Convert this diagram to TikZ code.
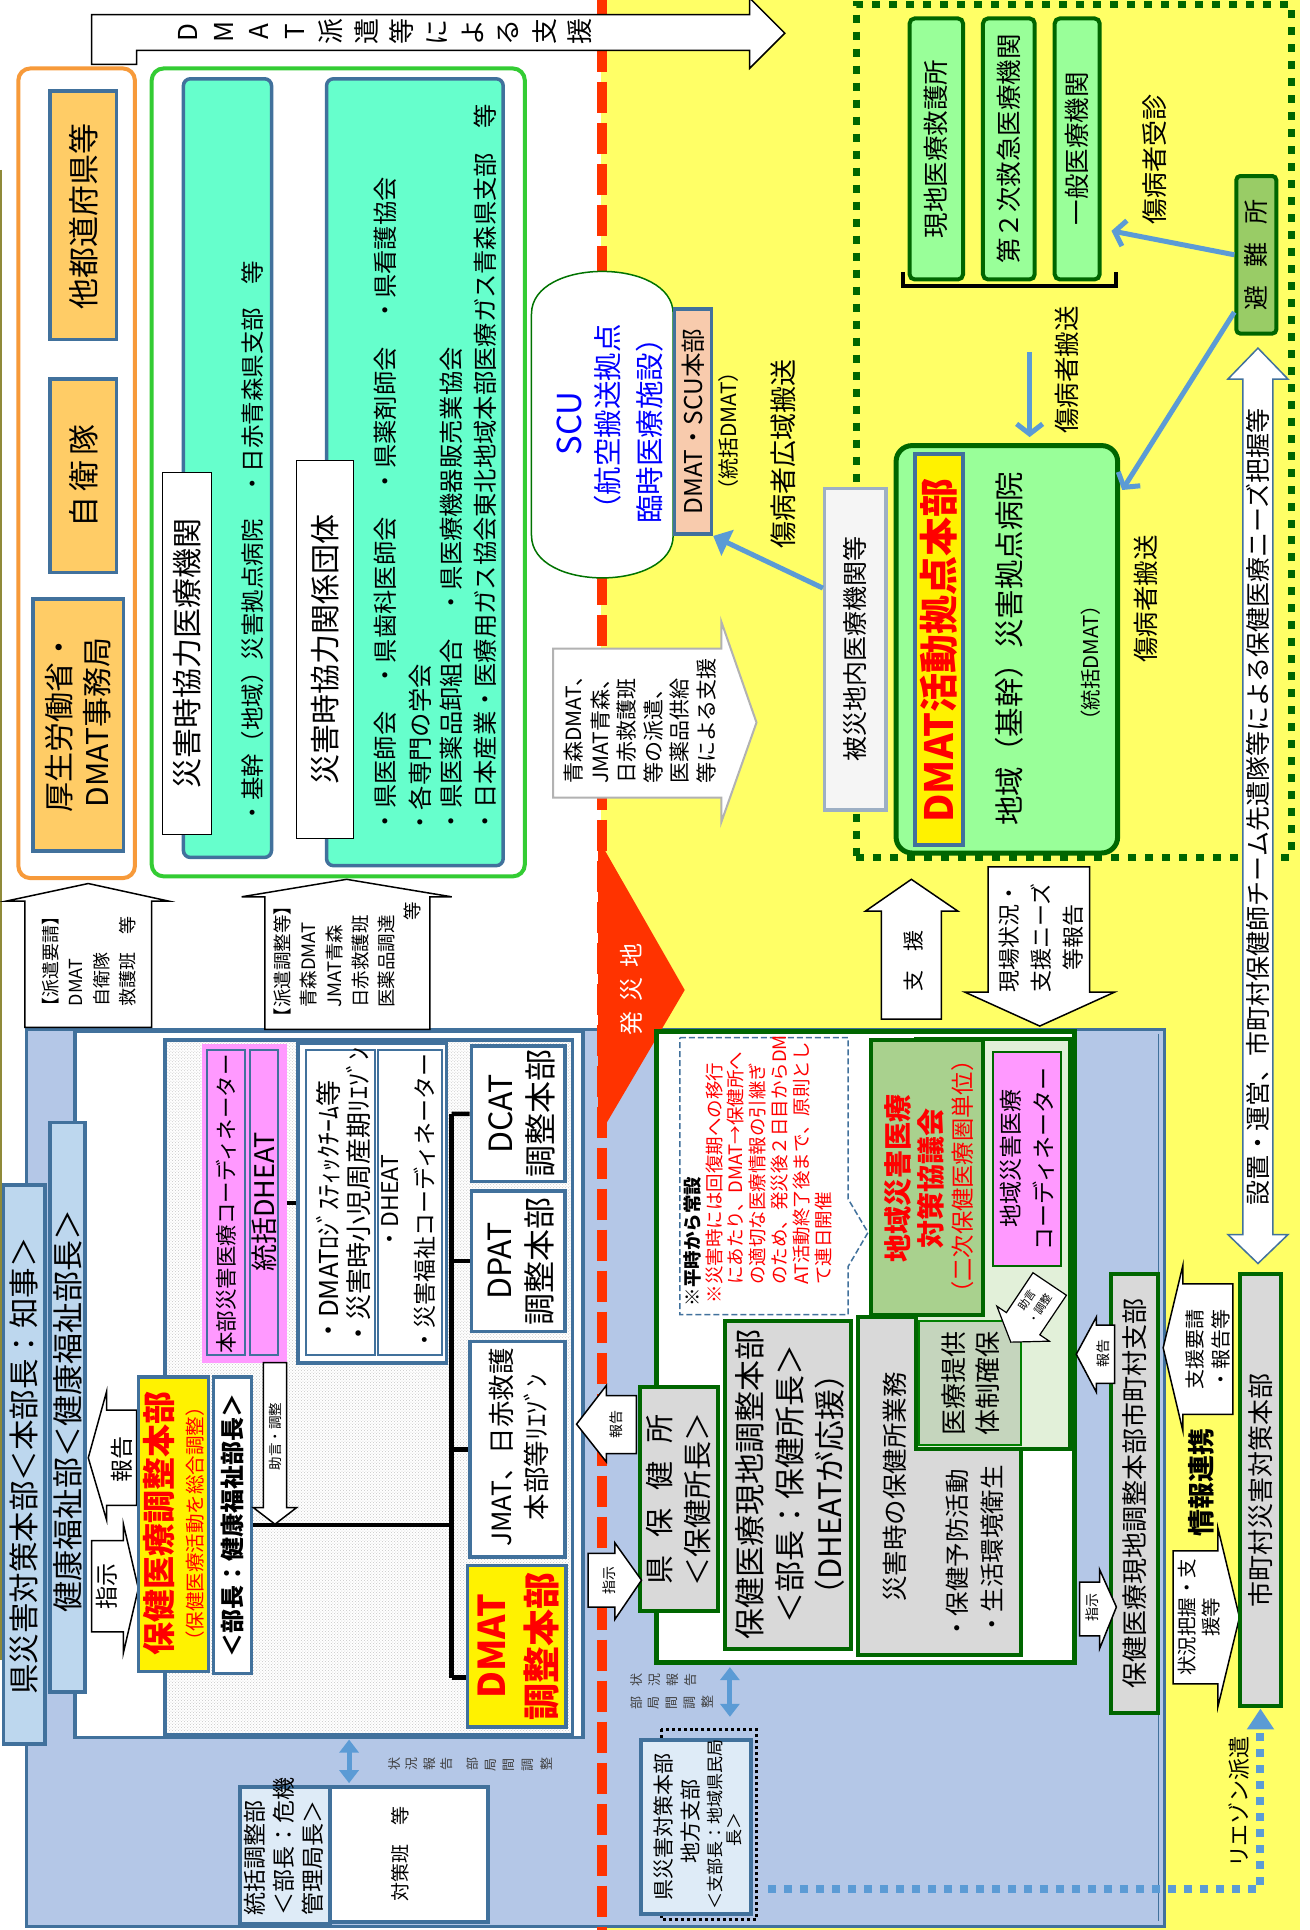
\documentclass[tikz,border=0pt]{standalone}
\usepackage{fontspec}
\setmainfont{Noto Sans CJK JP}
\usepackage{graphicx}
\usetikzlibrary{arrows.meta,calc,positioning,fit,patterns}

\definecolor{bdblue}{HTML}{41719C}
\definecolor{regblue}{HTML}{B4C7E7}
\definecolor{lblblue}{HTML}{BDD7EE}
\definecolor{paleblue}{HTML}{DEEBF7}
\definecolor{bgyellow}{HTML}{FFFF66}
\definecolor{boxorange}{HTML}{FFCC66}
\definecolor{frameorange}{HTML}{F79A3A}
\definecolor{framegreen}{HTML}{33CC33}
\definecolor{tealbox}{HTML}{66FFCC}
\definecolor{pinkbox}{HTML}{FF99FF}
\definecolor{lgreen}{HTML}{99FF99}
\definecolor{dgreen}{HTML}{006600}
\definecolor{shelterfill}{HTML}{99CC66}
\definecolor{councilgreen}{HTML}{A9D18E}
\definecolor{palegreen}{HTML}{E2F0D9}
\definecolor{supplygreen}{HTML}{C5D5BD}
\definecolor{peach}{HTML}{F8CBAD}
\definecolor{greybox}{HTML}{D9D9D9}
\definecolor{greyedge}{HTML}{9DAFC4}
\definecolor{arrowblue}{HTML}{5B9BD5}
\definecolor{disasterred}{HTML}{FF3300}

\newcommand\fs[2]{\fontsize{#1pt}{#2pt}\selectfont}
\makeatletter
\newcommand\tate[2]{\@tfor\tatech:=#2\do{\makebox[#1]{\rotatebox[origin=c]{90}{\tatech}}}}
\makeatother

\tikzset{
  bluebox/.style={draw=bdblue, line width=3.5pt, inner sep=0pt},
  greenbox/.style={draw=dgreen, line width=4pt, inner sep=0pt},
  lbl/.style={draw=black, line width=1.5pt, fill=white, inner sep=0pt},
  txt/.style={inner sep=0pt, align=center, rotate=90},
  blockarrow/.style={draw=black, line width=1.5pt, fill=white},
  bluearrow/.style={draw=arrowblue, line width=5pt},
  orgline/.style={black, line width=4.5pt},
}

\begin{document}
\begin{tikzpicture}[x=1.2312pt, y=-1.2312pt]
\useasboundingbox (0,0) rectangle (1064,1568);
\fill[white] (0,0) rectangle (1064,1568);
\fill[bgyellow] (488,0) rectangle (1056,1568);
\draw[olive!60!gray, line width=1.5pt] (1,138) -- (1,1349);

% prefecture headquarters area
\node[bluebox, line width=3pt, fill=regblue, fit={(21.7,836) (946,1565)}] (pref) {};
\draw[bdblue, line width=1pt] (940.8,840) -- (940.8,1561);
\node[bluebox, fill=white, fit={(61,838) (473.8,1411.7)}] (kenfuku) {};
\node[bluebox, pattern=crosshatch dots, pattern color=gray!45, fit={(134,845) (465,1409)}] (hhqarea) {};

% border of the disaster area
\draw[disasterred, line width=10pt, dash pattern=on 31pt off 10pt] (488.7,0) -- (488.7,1568);
\node[draw=dgreen, line width=7pt, dash pattern=on 8pt off 9pt, inner sep=0pt, fit={(695.7,3.4) (1049,696.6)}] (siteframe) {};

% support from outside
\draw[blockarrow] (74.4,11.8) -- (609,11.8) -- (609,-1.6) -- (637.6,27) -- (609,55.6) -- (609,41) -- (111,41) -- (111,52.2) -- (74.4,52.2) -- cycle;
\node[inner sep=0pt, font=\fs{26}{30}] (supportt) at (312,26) {\tate{35.6pt}{DMAT派遣等による支援}};

\node[bluebox, draw=frameorange, line width=4pt, rounded corners=12pt, fill=white, fit={(14.9,55.6) (109.6,713.4)}] (srcframe) {};
\node[bluebox, fill=boxorange, fit={(40.6,74) (94.8,276)}] (otherpref) {};
\node[txt, font=\fs{31}{36}] (otherpreft) at (67.7,176) {他都道府県等};
\node[bluebox, fill=boxorange, fit={(40.6,308) (94.8,465)}] (sdf) {};
\node[txt, font=\fs{31}{36}] (sdft) at (67.7,386.5) {自\hspace{5pt}衛\hspace{5pt}隊};
\node[bluebox, fill=boxorange, fit={(27,486.5) (100.2,691.5)}] (mhlw) {};
\node[txt, font=\fs{30}{38}] (mhlwt) at (63.6,587) {厚生労働省・\\DMAT事務局};

\node[bluebox, draw=framegreen, line width=4pt, rounded corners=12pt, fill=white, fit={(123.2,55.6) (426.4,712)}] (coopframe) {};
\node[bluebox, fill=tealbox, rounded corners=7pt, fit={(149,64) (220.6,696.6)}] (hospgrp) {};
\node[bluebox, fill=tealbox, rounded corners=7pt, fit={(265.3,64) (408.8,703.3)}] (orggrp) {};
\node[lbl, fit={(132,384) (172,678)}] (hosplbl) {};
\node[txt, font=\fs{30}{34}] (hosplblt) at (hosplbl.center) {災害時協力医療機関};
\node[lbl, fit={(241,374) (287,681.4)}] (orglbl) {};
\node[txt, font=\fs{30}{34}] (orglblt) at (orglbl.center) {災害時協力関係団体};
\node[txt, anchor=west, font=\fs{23.5}{28}] (hospgrpt) at (205,670) {・基幹（地域）災害拠点病院　・日赤青森県支部　等};
\node[txt, anchor=west, font=\fs{24.3}{28}] (orga) at (313,677) {・県医師会　・県歯科医師会　・県薬剤師会　・県看護協会};
\node[txt, anchor=west, font=\fs{24.3}{28}] (orgb) at (341,678) {・各専門の学会};
\node[txt, anchor=west, font=\fs{24.3}{28}] (orgc) at (367,677) {・県医薬品卸組合　・県医療機器販売業協会};
\node[txt, anchor=west, font=\fs{24.3}{28}] (orgd) at (394,677) {・日本産業・医療用ガス協会東北地域本部医療ガス青森県支部　等};

\draw[blockarrow] (20.3,834.6) -- (20.3,732) -- (5.4,732) -- (71.7,717.8) -- (136.7,732) -- (123.2,732) -- (123.2,834.6) -- cycle;
\node[txt, anchor=north west, align=left, font=\fs{18}{25.7}] (reqt) at (34,825) {【派遣要請】\\\hspace*{0.5em}DMAT\\\hspace*{0.5em}自衛隊\\\hspace*{0.5em}救護班　等};
\draw[blockarrow] (215.2,836.3) -- (215.2,728.6) -- (196.3,728.6) -- (281.6,714.4) -- (367,728.6) -- (349.2,728.6) -- (349.2,836.3) -- cycle;
\node[txt, anchor=north west, align=left, font=\fs{18.5}{26}] (adjt) at (222,834) {【派遣調整等】\\\hspace*{1em}青森DMAT\\\hspace*{1em}JMAT青森\\\hspace*{1em}日赤救護班\\\hspace*{1em}医薬品調達\\\hspace*{5.7em}等};

% SCU
\draw[draw=green!45!black, line width=1.5pt, fill=white] (431.8,435) -- (431.8,255) .. controls (431.8,209) and (546.9,209) .. (546.9,255) -- (546.9,435) .. controls (546.9,481) and (431.8,481) .. (431.8,435) -- cycle;
\node[txt, text=blue, font=\fs{33}{36}] (scut) at (463,344) {SCU};
\node[txt, text=blue, align=left, font=\fs{28.5}{42}] (scusub) at (511,344.5) {（航空搬送拠点\\臨時医療施設）};
\node[bluebox, fill=peach, fit={(548,251) (578,434)}] (scuhq) {};
\node[txt, font=\fs{24.5}{28}] (scuhqt) at (scuhq.center) {DMAT・SCU本部};
\node[txt, font=\fs{21}{24}] (scudmat) at (592,350) {（統括DMAT）};
\node[txt, font=\fs{27}{30}] (wideair) at (636,369) {傷病者広域搬送};

\node[bluebox, draw=greyedge, fill=gray!8, fit={(670,397) (720,658)}] (hisai) {};
\node[txt, font=\fs{25}{28}] (hisait) at (hisai.center) {被災地内医療機関等};
\draw[bluearrow, -{Triangle[length=16pt,width=28pt]}] (hisai.118) -- (scuhq.south east);

\draw[draw=gray!60, line width=2pt, fill=white] (449.4,527) -- (586,527) -- (586,505) -- (614.6,587) -- (586,668) -- (586,648) -- (449.4,648) -- cycle;
\node[txt, anchor=north west, align=left, font=\fs{21}{26.6}] (aomorit) at (458,637) {青森DMAT、\\JMAT青森、\\日赤救護班\\等の派遣、\\医薬品供給\\等による支援};

\fill[disasterred] (486,681.4) -- (556.3,804.3) -- (486,923.9) -- cycle;
\node[txt, text=white, font=\fs{24}{28}] (sitet) at (513,804) {発\hspace{10pt}災\hspace{10pt}地};

% disaster site
\node[greenbox, fill=lgreen, rounded corners=5pt, fit={(739,15) (782.4,227)}] (fieldaid) {};
\node[txt, font=\fs{25.5}{28}] (fieldaidt) at (fieldaid.center) {現地医療救護所};
\node[greenbox, fill=lgreen, rounded corners=5pt, fit={(798.6,15) (840.6,227)}] (second) {};
\node[txt, font=\fs{25.5}{28}] (secondt) at (second.center) {第２次救急医療機関};
\node[greenbox, fill=lgreen, rounded corners=5pt, fit={(856.9,15) (893.4,227)}] (ippan) {};
\node[txt, font=\fs{25.5}{28}] (ippant) at (ippan.center) {一般医療機関};
\draw[black, line width=4pt] (733.7,221) |- (907,232) -- (907,221);
\coordinate (brk) at (836.5,286);
\node[txt, font=\fs{26}{30}] (visitt) at (938,129.5) {傷病者受診};
\node[greenbox, fill=shelterfill, rounded corners=4pt, fit={(1004.4,143) (1036.9,271)}] (shelter) {};
\node[txt, font=\fs{25}{28}] (sheltert) at (shelter.center) {避\hspace{18pt}難\hspace{18pt}所};

\node[greenbox, line width=5pt, fill=lgreen, rounded corners=16pt, fit={(728,362) (908,693)}] (hosp) {};
\node[bluebox, fill=yellow, line width=4pt, fit={(743,368.7) (782,686.5)}] (dmathq) {};
\node[txt, text=red, font=\bfseries\fs{39}{42}] (dmathqt) at (762.5,528.5) {DMAT活動拠点本部};
\node[txt, font=\fs{29.5}{34}] (hospt) at (820,527) {地域（基幹）災害拠点病院};
\node[txt, font=\fs{20.5}{24}] (hospdmat) at (886,538.5) {（統括DMAT）};

\draw[bluearrow, -{Straight Barb[length=10pt,width=26pt]}, shorten >=10pt] (shelter.west) -- (ippan.-73.6);
\draw[bluearrow, -{Straight Barb[length=10pt,width=26pt]}, shorten >=4pt] (shelter.249) -- (hosp.54.6);
\draw[bluearrow, -{Straight Barb[length=10pt,width=26pt]}, shorten >=6pt] (brk) -- (brk |- hosp.north);
\node[txt, font=\fs{25.5}{28}] (carrya) at (867,300.5) {傷病者搬送};
\node[txt, font=\fs{25.5}{28}] (carryb) at (931,486.5) {傷病者搬送};

\draw[draw=bdblue, line width=1.5pt, fill=white] (1009.8,308) -- (997.6,308) -- (1022,282.8) -- (1046.4,308) -- (1034.2,308) -- (1034.2,1003) -- (1046.4,1003) -- (1022,1026.5) -- (997.6,1003) -- (1009.8,1003) -- cycle;
\node[txt, font=\fs{25}{28}] (needst) at (1022,656) {設置・運営、市町村保健師チーム先遣隊等による保健医療ニーズ把握等};

\draw[blockarrow] (716,827.9) -- (716,740.3) -- (703,740.3) -- (740.4,714.4) -- (778.3,740.3) -- (764.8,740.3) -- (764.8,827.9) -- cycle;
\node[txt, font=\fs{21}{24}] (aidt) at (741.8,781) {支\hspace{0.9em}援};
\draw[blockarrow] (802.7,704.3) -- (885.3,704.3) -- (885.3,806) -- (905.6,806) -- (844.7,833.6) -- (783.8,806) -- (802.7,806) -- cycle;
\node[txt, font=\fs{22}{32}] (fieldrept) at (846,762) {現場状況・\\支援ニーズ\\等報告};

% health centre
\node[greenbox, line width=5pt, fill=white, fit={(533.3,838) (873,1351)}] (hcarea) {};
\draw[bdblue, line width=1.5pt, dash pattern=on 6pt off 3pt, fill=white] (552.3,843) -- (689,843) -- (689,974) -- (705.2,1001.3) -- (689,1029) -- (689,1068) -- (552.3,1068) -- cycle;
\node[txt, anchor=west, font=\bfseries\fs{18.5}{22}] (notea) at (563,1061.5) {※平時から常設};
\node[txt, anchor=north west, align=left, text=red, font=\fs{18.5}{21.8}] (noteb) at (573,1059) {※災害時には回復期への移行\\\hspace*{1em}にあたり、DMAT→保健所へ\\\hspace*{1em}の適切な医療情報の引継ぎ\\\hspace*{1em}のため、発災後２日目からDM\\\hspace*{1em}AT活動終了後まで、原則とし\\\hspace*{1em}て連日開催};

\node[greenbox, fill=greybox, fit={(519.8,1127.1) (583.4,1309)}] (hc) {};
\node[txt, font=\fs{29}{38.3}] (hct) at (551,1218) {県\hspace{18pt}保\hspace{18pt}健\hspace{18pt}所\\＜保健所長＞};
\node[greenbox, fill=greybox, fit={(588.8,1073.3) (691.7,1339.3)}] (onsite) {};
\node[txt, font=\fs{31}{40}] (onsitet) at (641.5,1206) {保健医療現地調整本部\\＜部長：保健所長＞\\（DHEATが応援）};
\node[greenbox, fill=greybox, fit={(697.2,1070) (829.8,1344.3)}] (hcduty) {};
\node[greenbox, fill=palegreen, fit={(744.5,844) (869,1177.6)}] (coordarea) {};
\node[greenbox, fill=councilgreen, fit={(708,844.7) (798.6,1068.2)}] (council) {};
\node[txt, text=red, font=\bfseries\fs{28}{32.6}] (councilt) at (742.7,957.5) {地域災害医療\\対策協議会};
\node[txt, text=red, font=\fs{23.3}{26}] (councilsub) at (782,956) {（二次保健医療圏単位）};
\node[greenbox, line width=2pt, fill=pinkbox, fit={(806.8,854.8) (862.3,1028.2)}] (regcoord) {};
\node[txt, font=\fs{23}{33}] (regcoordt) at (regcoord.center) {地域災害医療\\コーディネーター};
\node[greenbox, draw=green!50!black, line width=2pt, fill=supplygreen, fit={(747,1073) (829.8,1174.3)}] (supply) {};
\node[txt, font=\fs{26}{33.4}] (supplyt) at (supply.center) {医療提供\\体制確保};
\node[txt, font=\fs{25.5}{30}] (dutyt) at (727,1208) {災害時の保健所業務};
\node[txt, anchor=west, font=\fs{24.5}{30}] (dutya) at (778,1333) {・保健予防活動};
\node[txt, anchor=west, font=\fs{24.5}{30}] (dutyb) at (806,1330) {・生活環境衛生};
\draw[blockarrow, line width=1.2pt] (839.2,1034) -- (866.4,1052.3) -- (844.8,1084.4) -- (852.5,1089.6) -- (821.2,1090.4) -- (809.9,1061.2) -- (817.6,1066.4) -- cycle;
\node[inner sep=0pt, align=center, rotate=56, font=\fs{11}{15.5}] (advb) at (840,1060) {助言\\・調整};

\draw[blockarrow] (517,1133.9) -- (492.7,1133.9) -- (492.7,1125.5) -- (468.4,1157) -- (492.7,1187.8) -- (492.7,1181) -- (517,1181) -- cycle;
\node[txt, font=\fs{14}{16}] (repb) at (501,1157) {報告};
\draw[blockarrow] (477.8,1262) -- (499.5,1262) -- (499.5,1253.4) -- (521.2,1283.8) -- (499.5,1315.7) -- (499.5,1305.6) -- (477.8,1305.6) -- cycle;
\node[txt, font=\fs{14}{16}] (insb) at (495,1283.8) {指示};

% municipal level
\node[greenbox, fill=greybox, fit={(903,1035) (940.8,1391.5)}] (munibranch) {};
\node[txt, font=\fs{26}{30}] (munibrancht) at (munibranch.center) {保健医療現地調整本部市町村支部};
\draw[blockarrow] (905.6,1076.6) -- (890.7,1076.6) -- (890.7,1070) -- (874.4,1100.2) -- (890.7,1131) -- (890.7,1123.8) -- (905.6,1123.8) -- cycle;
\node[txt, font=\fs{14}{16}] (repc) at (896,1100) {報告};
\draw[blockarrow] (877.2,1285.4) -- (893.4,1285.4) -- (893.4,1275.3) -- (907,1305.6) -- (893.4,1339.3) -- (893.4,1329) -- (877.2,1329) -- cycle;
\node[txt, font=\fs{14}{16}] (insc) at (887,1306) {指示};

\draw[blockarrow] (1001.7,1043) -- (961,1043) -- (961,1028) -- (945,1095) -- (961,1162.5) -- (961,1149) -- (1001.7,1149) -- cycle;
\node[txt, font=\fs{20}{26}] (munireq) at (981,1096) {支援要請\\・報告等};
\node[txt, font=\bfseries\fs{27}{30}] (infolink) at (976,1204.5) {情報連携};
\draw[blockarrow] (953,1260) -- (989.5,1260) -- (989.5,1241.6) -- (1007,1314) -- (989.5,1386.4) -- (989.5,1368) -- (953,1368) -- cycle;
\node[txt, font=\fs{19.5}{23.5}] (munisit) at (974,1314) {状況把握・支\\援等};
\node[greenbox, fill=greybox, fit={(1007.1,1035) (1041,1386.4)}] (munihq) {};
\node[txt, font=\fs{26}{30}] (munihqt) at (munihq.center) {市町村災害対策本部};

% prefecture / health and welfare department
\node[bluebox, fill=lblblue, fit={(2.7,962.6) (36.5,1416.7)}] (prefhq) {};
\node[txt, font=\fs{30.5}{34}] (prefhqt) at (19.6,1191) {県災害対策本部＜本部長：知事＞};
\node[bluebox, fill=lblblue, fit={(40.6,912) (69,1374.6)}] (kenfukulbl) {};
\node[txt, font=\fs{31}{34}] (kenfukut) at (54.8,1146.6) {健康福祉部＜健康福祉部長＞};

\draw[blockarrow] (74.5,1251.7) -- (100.2,1251.7) -- (100.2,1238) -- (112.4,1290.5) -- (100.2,1343) -- (100.2,1325.8) -- (74.5,1325.8) -- cycle;
\node[txt, font=\fs{23}{26}] (insa) at (87,1289) {指示};
\draw[blockarrow] (111,1145.7) -- (86.6,1145.7) -- (86.6,1130.5) -- (71.7,1184.4) -- (86.6,1234.9) -- (86.6,1223.1) -- (111,1223.1) -- cycle;
\node[txt, font=\fs{23}{26}] (repa) at (98.8,1186) {報告};

\node[bluebox, fill=yellow, fit={(112.4,1118.7) (169.2,1357.8)}] (hhq) {};
\node[txt, text=red, font=\bfseries\fs{33}{36}] (hhqt) at (129.2,1238) {保健医療調整本部};
\node[txt, text=red, font=\fs{19.5}{22}] (hhqsub) at (158.4,1238) {（保健医療活動を総合調整）};
\node[bluebox, fill=white, fit={(173.3,1118.7) (204.4,1359.5)}] (bucho) {};
\node[txt, font=\bfseries\fs{24}{28}] (buchot) at (bucho.center) {＜部長：健康福祉部長＞};

\node[inner sep=0pt, fill=pinkbox, fit={(163.8,848) (232.8,1107)}] (hqcoord) {};
\node[bluebox, line width=2pt, fit={(167.9,852.8) (199,1100.6)}] (hqcoorda) {};
\node[bluebox, line width=2pt, fit={(203,852.8) (226,1100.6)}] (dheata) {};
\node[txt, font=\fs{21.5}{24}] (hqcoordt) at (183.5,978) {本部災害医療コーディネーター};
\node[txt, font=\fs{27}{30}] (dheatt) at (214.5,976.7) {統括DHEAT};

\node[bluebox, fill=white, fit={(242.3,847.4) (362.8,1107.3)}] (staffgrp) {};
\node[bluebox, line width=2pt, fit={(249,852.8) (304.6,1100.6)}] (logi) {};
\node[bluebox, line width=2pt, fit={(307.3,852.8) (358.7,1100.6)}] (welfare) {};
\node[txt, anchor=west, font=\fs{26}{30}] (logia) at (266.7,1092) {・DMATﾛｼﾞｽﾃｨｯｸﾁｰﾑ等};
\node[txt, anchor=west, font=\fs{26}{30}] (logib) at (291,1094) {・災害時小児周産期ﾘｴｿﾞﾝ};
\node[txt, font=\fs{23}{35}] (welfaret) at (332.3,977) {・DHEAT\\・災害福祉コーディネーター};
\draw[orgline] (hqcoord.east) -- (hqcoord.east -| staffgrp.west);

\draw[blockarrow] (213.9,1107) -- (213.9,1224.8) -- (205.8,1224.8) -- (223.4,1238.3) -- (241,1224.8) -- (232.8,1224.8) -- (232.8,1107) -- cycle;
\node[txt, font=\fs{13.5}{16}] (adva) at (223.4,1167) {助言・調整};

\node[bluebox, fill=white, fit={(383,849.8) (458.9,960)}] (dcat) {};
\node[txt, font=\fs{32}{40}] (dcatt) at (423.7,905) {DCAT\\調整本部};
\node[bluebox, fill=white, fit={(383,967.6) (458.9,1081.7)}] (dpat) {};
\node[txt, font=\fs{32}{40}] (dpatt) at (423.7,1024.6) {DPAT\\調整本部};
\node[bluebox, fill=white, fit={(381.7,1090) (458.9,1265)}] (jmat) {};
\node[txt, font=\fs{26.5}{35}] (jmatt) at (421.6,1176) {JMAT、日赤救護\\本部等ﾘｴｿﾞﾝ};
\node[bluebox, fill=yellow, fit={(380,1272) (460,1403.2)}] (dmatco) {};
\node[txt, text=red, font=\bfseries\fs{37}{50.5}] (dmatcot) at (421.3,1337.6) {DMAT\\調整本部};

\coordinate (trunktop) at (367,904.9);
\coordinate (trunkbot) at (367,1363);
\draw[orgline] (trunktop) -- (trunkbot);
\draw[orgline] (bucho.east) -- (bucho.east -| trunktop);
\draw[orgline] (trunktop) -- (dcat.west);
\draw[orgline] (dpat.west -| trunktop) -- (dpat.west);
\draw[orgline] (jmat.west -| trunktop) -- (jmat.west);
\draw[orgline] (trunkbot) -- (trunkbot -| dmatco.west);

% lower row
\node[bluebox, line width=4pt, fill=paleblue, fit={(195,1452) (268,1563.2)}] (general) {};
\node[txt, anchor=north west, align=left, font=\fs{23}{29}] (generalt) at (198,1556) {統括調整部\\＜部長：危機\\管理局長＞};
\node[bluebox, line width=4pt, fill=white, fit={(268,1452) (396.6,1561.5)}] (teams) {};
\node[txt, font=\fs{19}{22}] (teamst) at (324.9,1506) {対策班　等};

\draw[black, line width=3pt, dash pattern=on 3pt off 3pt] (537.4,1405) rectangle (614.5,1559.8);
\node[bluebox, line width=4pt, fill=paleblue, fit={(521,1413.3) (610.5,1554.8)}] (chihou) {};
\node[txt, font=\fs{21}{24}] (chihoua) at (538.7,1484) {県災害対策本部};
\node[txt, font=\fs{21}{24}] (chihoub) at (561,1480) {地方支部};
\node[txt, font=\fs{17}{20}] (chihouc) at (580.7,1482) {＜支部長：地域県民局};
\node[txt, font=\fs{17}{20}] (chihoud) at (597,1486) {長＞};

\coordinate (sxa) at (283.6,1413.3);
\coordinate (sxb) at (593,1354.4);
\draw[arrowblue, line width=5pt, {Triangle[length=13pt,width=19pt]}-{Triangle[length=13pt,width=19pt]}] (sxa) -- ++(0,35.4);
\draw[arrowblue, line width=5pt, {Triangle[length=13pt,width=19pt]}-{Triangle[length=13pt,width=19pt]}] (sxb) -- ++(0,40.4);
\node[inner sep=0pt, text=black!75, font=\fs{13}{15}] (stata) at (382.5,1433.5) {\tate{17.2pt}{状況報告}\hspace{8pt}\tate{18.5pt}{部局間調整}};
\node[inner sep=0pt, align=left, text=black!75, font=\fs{13}{22.8}] (statb) at (546,1374) {\tate{18pt}{状況報告}\\\tate{17.7pt}{部局間調整}};

\coordinate (lzstart) at (624,1534.5);
\draw[arrowblue, line width=8pt, dash pattern=on 8pt off 8pt, -{Triangle[length=21pt,width=26pt]}] (lzstart) -| (munihq.south);
\node[txt, font=\fs{22}{26}] (liaisont) at (1007,1464) {リエゾン派遣};
\end{tikzpicture}
\end{document}
